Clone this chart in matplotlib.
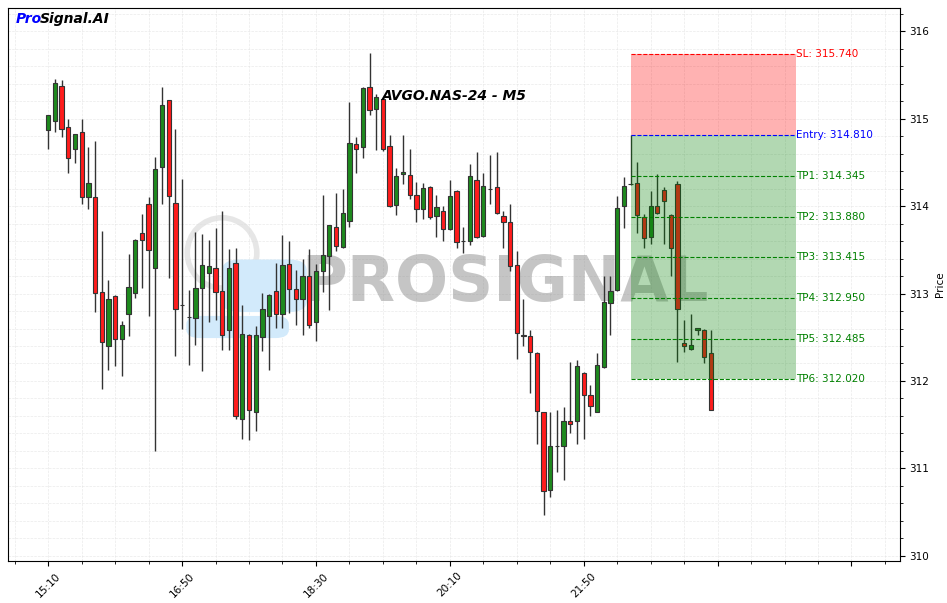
import matplotlib
matplotlib.use("Agg")
import matplotlib.pyplot as plt
import numpy as np
from matplotlib.patches import Rectangle, Ellipse, FancyBboxPatch
from matplotlib.ticker import MultipleLocator, FixedLocator

# --- chart data (M5 candles) ---
opens = [314.87, 314.97, 315.375, 314.91, 314.66, 314.85, 314.11, 314.105, 313.02, 312.40,
         312.97, 312.48, 312.77, 313.01, 313.69, 314.025, 313.29, 314.45, 315.21, 314.04,
         312.87, 312.735, 312.72, 313.06, 313.235, 313.29, 313.03, 312.58, 313.35, 311.565,
         312.53, 311.65, 312.50, 312.745, 313.03, 312.77, 313.34, 313.05, 312.94, 313.20,
         312.675, 313.26, 313.43, 313.76, 313.53, 313.83, 314.71, 314.68, 315.36, 315.11,
         315.23, 314.69, 314.01, 314.365, 314.36, 314.13, 313.97, 314.22, 313.89, 313.945,
         313.74, 314.175, 313.605, 313.60, 314.30, 313.66, 314.20, 314.22, 313.89, 313.815,
         313.33, 312.53, 312.515, 312.32, 311.645, 310.755, 311.26, 311.26, 311.54, 311.54,
         312.09, 311.84, 311.645, 312.16, 312.89, 313.045, 314.00, 314.25, 314.265, 313.88,
         313.65, 314.0, 314.185, 313.90, 314.255, 312.435, 312.365, 312.58, 312.58, 312.32]
highs = [315.04, 315.46, 315.44, 315.0, 314.83, 315.0, 314.68, 314.75, 313.72, 313.15,
         312.98, 312.69, 313.45, 313.63, 313.91, 314.11, 314.56, 315.36, 315.22, 314.88,
         314.31, 313.04, 313.70, 313.68, 313.61, 313.75, 313.94, 313.51, 313.52, 312.87,
         312.54, 312.625, 313.01, 313.0, 313.35, 313.67, 313.60, 313.27, 313.395, 313.51,
         313.34, 314.13, 313.79, 314.15, 314.20, 315.19, 314.79, 315.36, 315.75, 315.28,
         315.24, 314.81, 314.44, 314.815, 314.655, 314.28, 314.265, 314.23, 314.13, 314.0,
         314.30, 314.18, 313.76, 314.48, 314.62, 314.38, 314.585, 314.62, 313.945, 314.02,
         313.49, 312.94, 312.58, 312.33, 311.65, 311.645, 311.67, 311.70, 312.22, 312.24,
         312.10, 311.955, 312.32, 313.20, 313.20, 314.12, 314.335, 314.81, 314.505, 313.91,
         314.175, 314.37, 314.22, 313.91, 314.29, 312.70, 312.77, 312.61, 312.59, 312.58]
lows = [314.65, 314.85, 314.79, 314.38, 314.49, 314.02, 313.97, 312.79, 311.91, 312.13,
        312.175, 312.06, 312.51, 312.95, 313.06, 312.74, 311.20, 314.03, 313.18, 312.29,
        312.595, 312.18, 312.41, 312.115, 312.675, 312.70, 312.36, 312.36, 311.565, 311.34,
        311.325, 311.43, 312.34, 312.13, 312.61, 312.61, 312.78, 312.635, 312.53, 312.61,
        312.46, 313.02, 312.81, 313.49, 313.52, 313.76, 314.38, 314.55, 315.04, 314.64,
        314.63, 313.99, 313.90, 314.25, 314.085, 313.82, 313.855, 313.855, 313.65, 313.60,
        313.73, 313.52, 313.465, 313.555, 313.64, 313.65, 314.025, 313.91, 313.52, 313.26,
        312.25, 312.40, 311.86, 311.28, 310.47, 310.67, 310.96, 310.87, 311.405, 311.28,
        311.34, 311.60, 311.64, 312.15, 312.53, 313.03, 313.75, 314.24, 313.69, 313.52,
        313.57, 313.91, 313.57, 313.20, 312.22, 312.33, 312.36, 312.525, 312.21, 311.67]
closes = [315.04, 315.41, 314.88, 314.55, 314.83, 314.105, 314.265, 313.01, 312.45, 312.94,
          312.48, 312.64, 313.075, 313.615, 313.61, 313.50, 314.42, 315.16, 314.12, 312.82,
          312.87, 312.73, 313.06, 313.33, 313.315, 313.02, 312.53, 313.29, 311.60, 312.54,
          311.67, 312.53, 312.82, 312.985, 312.77, 313.33, 313.05, 312.94, 313.20, 312.635,
          313.26, 313.44, 313.785, 313.545, 313.92, 314.72, 314.655, 315.35, 315.10, 315.25,
          314.655, 314.0, 314.345, 314.39, 314.13, 313.97, 314.21, 313.875, 313.99, 313.74,
          314.115, 313.59, 313.605, 314.345, 313.65, 314.23, 314.20, 313.92, 313.82, 313.315,
          312.55, 312.52, 312.33, 311.66, 310.74, 311.26, 311.26, 311.54, 311.51, 312.17,
          311.84, 311.71, 312.18, 312.90, 313.03, 313.98, 314.23, 314.25, 313.895, 313.635,
          314.0, 313.92, 314.06, 313.52, 312.82, 312.40, 312.41, 312.605, 312.275, 311.67]

tick_labels = ["15:10", "16:50", "18:30", "20:10", "21:50"]

# trade setup
entry_price = 314.810
sl_price = 315.740
tp_names = ["TP1", "TP2", "TP3", "TP4", "TP5", "TP6"]
tp_prices = [314.345, 313.880, 313.415, 312.950, 312.485, 312.020]
zone_start = 87
zone_end = 111.7

UP = "#1e8a1e"
DOWN = "#ff1c1c"
EDGE = "#333333"

fig = plt.figure(figsize=(9.47, 6.03), dpi=100)
ax = fig.add_axes([0.0085, 0.0697, 0.9415, 0.9173])

# candles
for i, (o, h, l, c) in enumerate(zip(opens, highs, lows, closes)):
    ax.vlines(i, l, h, color=EDGE, linewidth=1.0, zorder=2)
    color = UP if c >= o else DOWN
    ax.add_patch(Rectangle((i - 0.32, min(o, c)), 0.64, abs(c - o),
                           facecolor=color, edgecolor=EDGE, linewidth=0.8, zorder=3))

# trade zones (drawn over the candles)
ax.fill_between([zone_start, zone_end], entry_price, sl_price, color="red", alpha=0.3,
                linewidth=0, zorder=4)
ax.fill_between([zone_start, zone_end], tp_prices[-1], entry_price, color="green", alpha=0.3,
                linewidth=0, zorder=4)

ax.hlines(sl_price, zone_start, zone_end, colors="red", linestyles="--", linewidth=0.8, zorder=5)
ax.text(zone_end, sl_price, f"SL: {sl_price:.3f}", color="red", fontsize=7.5, va="center", ha="left")
ax.hlines(entry_price, zone_start, zone_end, colors="blue", linestyles="--", linewidth=0.8, zorder=5)
ax.text(zone_end, entry_price, f"Entry: {entry_price:.3f}", color="blue", fontsize=7.5,
        va="center", ha="left")
for name, p in zip(tp_names, tp_prices):
    ax.hlines(p, zone_start, zone_end, colors="green", linestyles="--", linewidth=0.8, zorder=5)
    ax.text(zone_end, p, f"{name}: {p:.3f}", color="green", fontsize=7.5, va="center", ha="left")

# watermark
ax.add_patch(Ellipse((0.24, 0.557), 0.078, 0.127, transform=ax.transAxes, fill=False,
                     edgecolor="#e6e6e6", linewidth=4, zorder=0.5))
ax.add_patch(FancyBboxPatch((0.24, 0.45), 0.095, 0.095, boxstyle="round,pad=0,rounding_size=0.02",
                            transform=ax.transAxes, facecolor="#d2eafb", edgecolor="none", zorder=0.6))
ax.add_patch(FancyBboxPatch((0.2, 0.403), 0.115, 0.04, boxstyle="round,pad=0,rounding_size=0.015",
                            transform=ax.transAxes, facecolor="#d2eafb", edgecolor="none", zorder=0.6))
ax.text(0.557, 0.5, "PROSIGNAL", transform=ax.transAxes, fontsize=45, fontweight="bold",
        color="gray", alpha=0.45, ha="center", va="center", zorder=1)

ax.text(0.5, 0.84, "AVGO.NAS-24 - M5", transform=ax.transAxes, fontsize=10,
        fontweight="bold", fontstyle="italic", ha="center", va="center")
ax.text(0.009, 0.98, "Pro", transform=ax.transAxes, fontsize=10, fontweight="bold",
        fontstyle="italic", color="blue", ha="left", va="center")
ax.text(0.009 + 0.027, 0.98, "Signal.AI", transform=ax.transAxes, fontsize=10, fontweight="bold",
        fontstyle="italic", color="black", ha="left", va="center")

# axes
ax.set_xlim(-6, 127.2)
ax.set_ylim(309.94, 316.27)
ax.yaxis.tick_right()
ax.yaxis.set_label_position("right")
ax.set_ylabel("Price", fontsize=7.5)
ax.yaxis.set_major_locator(MultipleLocator(1))
ax.yaxis.set_minor_locator(MultipleLocator(0.2))
major_x = np.arange(0, 121, 20)
ax.xaxis.set_major_locator(FixedLocator(major_x))
ax.xaxis.set_minor_locator(MultipleLocator(5))
ax.set_xticklabels(tick_labels + [""] * (len(major_x) - len(tick_labels)), rotation=45, fontsize=7.5)
ax.tick_params(axis="y", labelsize=7.5)
ax.grid(True, which="both", linestyle="--", color="#dddddd", linewidth=0.5, alpha=0.6)
ax.set_axisbelow(True)

fig.savefig("out.png", dpi=100)
